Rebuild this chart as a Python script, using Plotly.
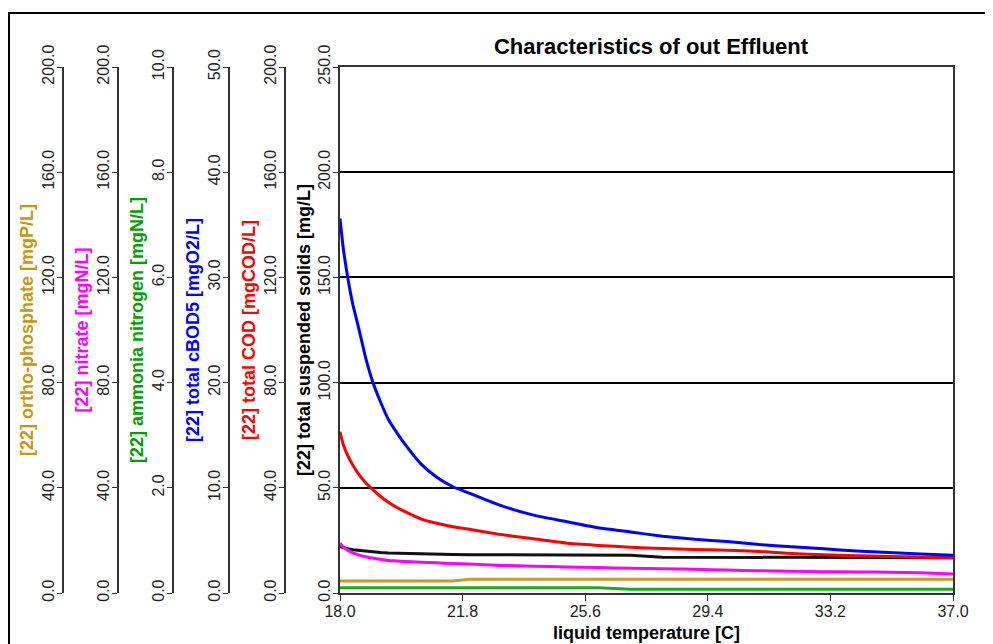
import plotly.graph_objects as go

temperature = [18.0, 18.1, 18.25, 18.4, 18.6, 18.8, 19.0, 19.25, 19.5, 19.75, 20.0, 20.5, 21.0, 21.5,
               22.0, 23.0, 24.0, 25.0, 26.0, 27.0, 28.0, 29.0, 30.0, 31.0, 32.0, 33.0, 34.0, 35.0,
               36.0, 37.0]
tss = [22.0, 21.5, 21.0, 20.6, 20.2, 19.8, 19.5, 19.2, 19.0, 18.9, 18.8, 18.4, 18.3, 18.3,
       18.2, 18.1, 18.1, 18.1, 18.0, 18.0, 17.0, 17.0, 17.0, 16.9, 16.9, 16.9, 16.8, 16.8,
       16.8, 16.8]
cod = [61.3, 56.5, 52.0, 48.6, 44.8, 41.8, 39.5, 36.8, 34.5, 32.6, 31.0, 28.2, 26.5, 25.2,
       24.2, 22.2, 20.6, 19.0, 18.1, 17.4, 16.9, 16.5, 16.3, 15.8, 15.0, 14.5, 14.2, 13.9,
       13.6, 13.4]
cbod5 = [35.6, 32.8, 29.8, 27.4, 24.9, 22.3, 20.2, 18.2, 16.5, 15.3, 14.2, 12.3, 11.0, 10.1,
         9.5, 8.3, 7.4, 6.8, 6.2, 5.8, 5.4, 5.1, 4.9, 4.6, 4.4, 4.2, 4.0, 3.85, 3.7, 3.6]
ammonia = [0.10, 0.10, 0.10, 0.10, 0.10, 0.10, 0.10, 0.10, 0.10, 0.10, 0.10, 0.10, 0.10, 0.10,
           0.10, 0.10, 0.10, 0.10, 0.10, 0.07, 0.07, 0.07, 0.07, 0.07, 0.07, 0.07, 0.07, 0.07,
           0.07, 0.07]
nitrate = [18.9, 17.5, 16.2, 15.3, 14.4, 13.8, 13.3, 12.8, 12.4, 12.2, 12.0, 11.7, 11.5, 11.2,
           11.0, 10.5, 10.2, 9.9, 9.7, 9.4, 9.2, 9.0, 8.7, 8.5, 8.3, 8.1, 8.0, 7.9, 7.7, 7.2]
ortho_p = [4.6, 4.6, 4.6, 4.6, 4.6, 4.6, 4.6, 4.6, 4.6, 4.6, 4.6, 4.6, 4.6, 4.6,
           5.2, 5.2, 5.2, 5.2, 5.2, 5.2, 5.2, 5.2, 5.2, 5.2, 5.2, 5.2, 5.2, 5.2, 5.2, 5.2]

x_ticks = [18.0, 21.8, 25.6, 29.4, 33.2, 37.0]

# page is offset by the 8px body margin
W, H = 985, 636
L, R, T, B = 0, 40, 59, 51
PW = W - L - R
PH = H - T - B

def px(x):
    return x / PW

FONT = "Liberation Sans, Arial, sans-serif"
AX = "#333333"

fig = go.Figure()
lw = 3
fig.add_trace(go.Scatter(x=temperature, y=tss, yaxis="y", mode="lines",
                         line=dict(color="#111111", width=lw)))
fig.add_trace(go.Scatter(x=temperature, y=cod, yaxis="y2", mode="lines",
                         line=dict(color="#FF0000", width=lw, shape="spline", smoothing=0.5)))
fig.add_trace(go.Scatter(x=temperature, y=cbod5, yaxis="y3", mode="lines",
                         line=dict(color="#0000FF", width=lw, shape="spline", smoothing=0.5)))
fig.add_trace(go.Scatter(x=temperature, y=ammonia, yaxis="y4", mode="lines",
                         line=dict(color="#1EAA1E", width=lw)))
fig.add_trace(go.Scatter(x=temperature, y=nitrate, yaxis="y5", mode="lines",
                         line=dict(color="#FF00FF", width=lw, shape="spline", smoothing=0.5)))
fig.add_trace(go.Scatter(x=temperature, y=ortho_p, yaxis="y6", mode="lines",
                         line=dict(color="#C89B28", width=lw)))

def yax(title, color, rng, dtick, pos=None, main=False):
    d = dict(
        title=dict(text="<b>%s</b>" % title, font=dict(family=FONT, size=18, color=color), standoff=0),
        range=rng, dtick=dtick, tick0=0, tickformat=".1f",
        tickangle=-90, ticks="outside", ticklen=5, tickcolor=AX,
        ticklabelstandoff=-3,
        tickfont=dict(family=FONT, size=16, color="#222222"),
        showline=True, linecolor=AX, linewidth=2,
        zeroline=False, fixedrange=True, automargin=False,
    )
    if main:
        d.update(anchor="x", showgrid=True, gridcolor="#000000", gridwidth=1.5, mirror=True)
    else:
        d.update(anchor="free", position=pos, overlaying="y", showgrid=False, side="left")
    return d

fig.update_layout(
    width=W, height=H,
    margin=dict(l=L, r=R, t=T, b=B, autoexpand=False),
    paper_bgcolor="white", plot_bgcolor="white",
    showlegend=False,
    title=dict(text="<b>Characteristics of out Effluent</b>", x=643 / W, xanchor="center",
               y=1 - 38 / H, yanchor="middle", yref="container",
               font=dict(family=FONT, size=22, color="#000000")),
    xaxis=dict(
        domain=[px(332), 1.0], range=[18.0, 37.0],
        tickvals=x_ticks, ticktext=["%.1f" % v for v in x_ticks],
        ticks="outside", ticklen=6, tickcolor=AX,
        ticklabelstandoff=-3, automargin=False,
        tickfont=dict(family=FONT, size=16, color="#222222"),
        showline=True, linecolor=AX, linewidth=2, mirror=True,
        showgrid=False, zeroline=False,
        title=dict(text="<b>liquid temperature [C]</b>", font=dict(family=FONT, size=18, color="#000000"),
                   standoff=7),
    ),
    yaxis=yax("[22] total suspended solids [mg/L]", "#000000", [0, 250], 50, main=True),
    yaxis2=yax("[22] total COD [mgCOD/L]", "#FF0000", [0, 200], 40, pos=px(277)),
    yaxis3=yax("[22] total cBOD5 [mgO2/L]", "#0000FF", [0, 50], 10, pos=px(221)),
    yaxis4=yax("[22] ammonia nitrogen [mgN/L]", "#00A000", [0, 10], 2, pos=px(165)),
    yaxis5=yax("[22] nitrate [mgN/L]", "#FF00FF", [0, 200], 40, pos=px(110)),
    yaxis6=yax("[22] ortho-phosphate [mgP/L]", "#C8960F", [0, 200], 40, pos=px(55)),
)

fig.add_shape(type="rect", xref="paper", yref="paper",
              x0=px(1), x1=1.2, y0=-0.3, y1=(T - 5 + PH) / PH,
              line=dict(color="#000000", width=2), fillcolor="rgba(0,0,0,0)", layer="below")

fig.write_html("out.html")
